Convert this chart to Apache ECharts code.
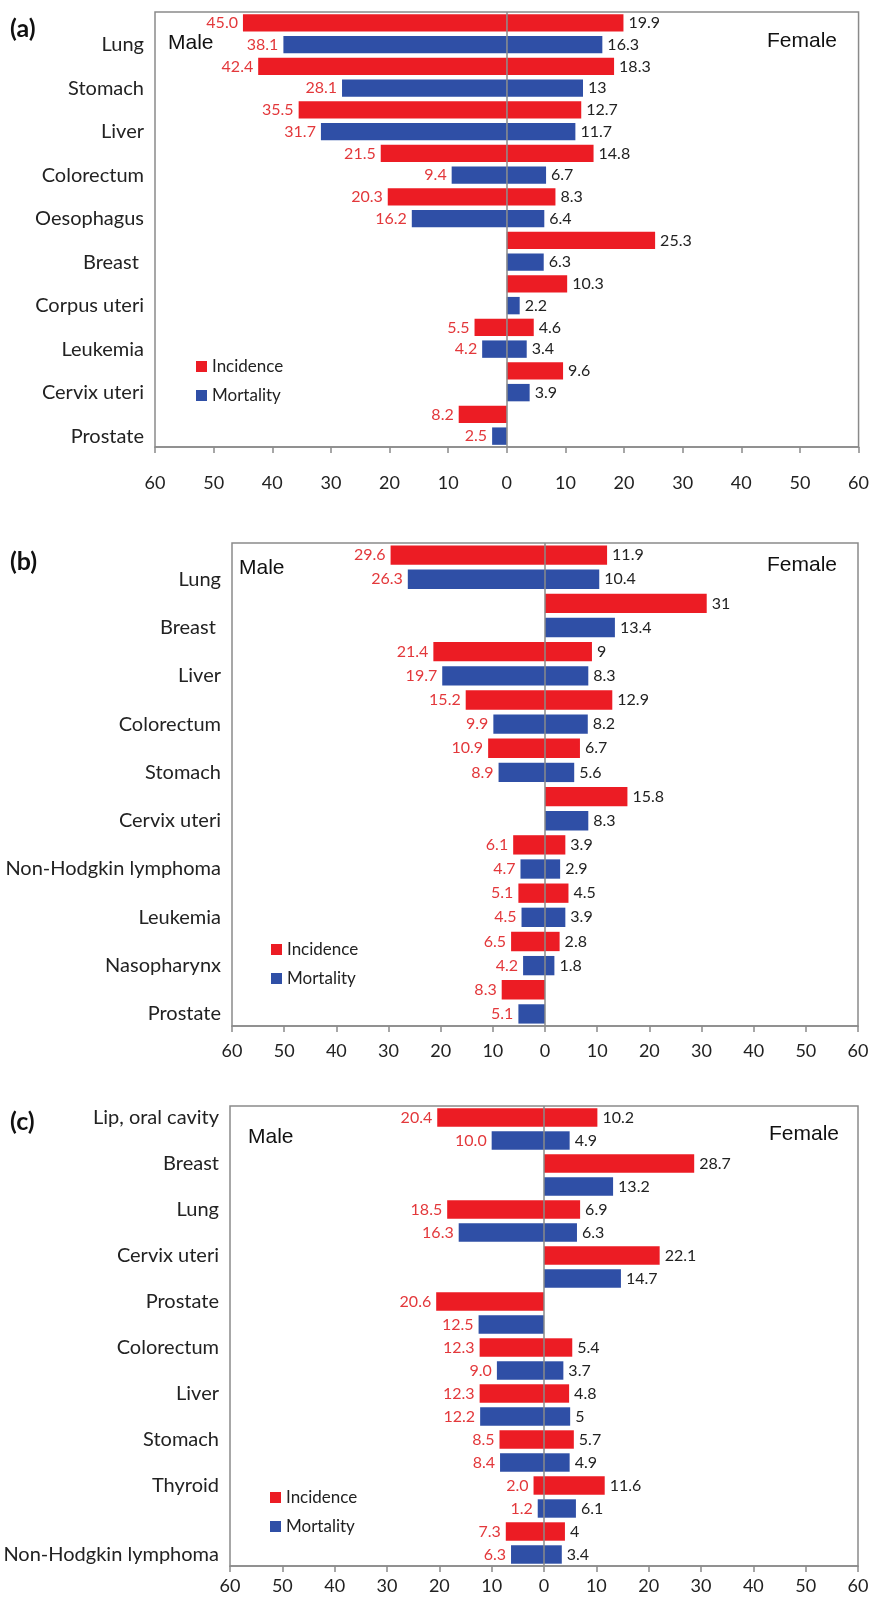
<!DOCTYPE html>
<html>
<head>
<meta charset="utf-8">
<script src="https://cdn.jsdelivr.net/npm/echarts@6/dist/echarts.min.js"></script>
<style>
html,body{margin:0;padding:0;background:#fff;}
#chart{width:872px;height:1600px;}
</style>
</head>
<body>
<div id="chart"></div>
<script>
// ---------- Panel (a) ----------
const catsA = ['Lung','Stomach','Liver','Colorectum','Oesophagus','Breast ','Corpus uteri','Leukemia','Cervix uteri','Prostate'];
const incMaleA   = [45.0, 42.4, 35.5, 21.5, 20.3, null, null, 5.5, null, 8.2];
const incFemaleA = [19.9, 18.3, 12.7, 14.8, 8.3, 25.3, 10.3, 4.6, 9.6, null];
const morMaleA   = [38.1, 28.1, 31.7, 9.4, 16.2, null, null, 4.2, null, 2.5];
const morFemaleA = [16.3, 13, 11.7, 6.7, 6.4, 6.3, 2.2, 3.4, 3.9, null];

// ---------- Panel (b) ----------
const catsB = ['Lung','Breast ','Liver','Colorectum','Stomach','Cervix uteri','Non-Hodgkin lymphoma','Leukemia','Nasopharynx','Prostate'];
const incMaleB   = [29.6, null, 21.4, 15.2, 10.9, null, 6.1, 5.1, 6.5, 8.3];
const incFemaleB = [11.9, 31, 9, 12.9, 6.7, 15.8, 3.9, 4.5, 2.8, null];
const morMaleB   = [26.3, null, 19.7, 9.9, 8.9, null, 4.7, 4.5, 4.2, 5.1];
const morFemaleB = [10.4, 13.4, 8.3, 8.2, 5.6, 8.3, 2.9, 3.9, 1.8, null];

// ---------- Panel (c) ----------
const catsC = ['Lip, oral cavity','Breast','Lung','Cervix uteri','Prostate','Colorectum','Liver','Stomach','Thyroid','Non-Hodgkin lymphoma'];
const incMaleC   = [20.4, null, 18.5, null, 20.6, 12.3, 12.3, 8.5, 2.0, 7.3];
const incFemaleC = [10.2, 28.7, 6.9, 22.1, null, 5.4, 4.8, 5.7, 11.6, 4];
const morMaleC   = [10.0, null, 16.3, null, 12.5, 9.0, 12.2, 8.4, 1.2, 6.3];
const morFemaleC = [4.9, 13.2, 6.3, 14.7, null, 3.7, 5, 4.9, 6.1, 3.4];

const panelTags = ['(a)','(b)','(c)'];
const seriesNames = ['Incidence','Mortality'];
const sexLabels = ['Male','Female'];
const axisMin = -60, axisMax = 60, axisStep = 10;

// label row per category: 0 = on incidence bar row, 1 = on mortality bar row
const panels = [
  {cats:catsA, im:incMaleA, ifm:incFemaleA, mm:morMaleA, mf:morFemaleA,
   labelRows:[1,1,1,1,1,1,1,1,1,1],
   grid:{left:155,right:13,top:12,height:435}, tickMargin:27,
   tagY:30, maleX:168, maleY:45, femaleX:837, femaleY:43, legendX:196, legendY:358},
  {cats:catsB, im:incMaleB, ifm:incFemaleB, mm:morMaleB, mf:morFemaleB,
   labelRows:[1,1,1,1,1,1,1,1,1,1],
   grid:{left:232,right:14,top:543,height:483}, tickMargin:16,
   tagY:563, maleX:239, maleY:570, femaleX:837, femaleY:567, legendX:271, legendY:941},
  {cats:catsC, im:incMaleC, ifm:incFemaleC, mm:morMaleC, mf:morFemaleC,
   labelRows:[0,0,0,0,0,0,0,0,0,1],
   grid:{left:230,right:14,top:1106,height:460}, tickMargin:11,
   tagY:1123, maleX:248, maleY:1139, femaleX:839, femaleY:1136, legendX:270, legendY:1489}
];

const RED = '#ec1c24', BLUE = '#2f4fa6', RED_TXT = '#e3383b', TXT = '#222';
const labelFont = 'Lato, "Open Sans", sans-serif';

const grids = [], xAxes = [], yAxes = [], series = [], legends = [], graphics = [];

panels.forEach((p, gi) => {
  const n = p.cats.length;
  const rows = [];
  for (let i = 0; i < n; i++) {
    rows.push(p.labelRows[i] === 0 ? p.cats[i] : '');
    rows.push(p.labelRows[i] === 1 ? p.cats[i] : '');
  }
  const fill = (arr, slot, sign) => {
    const out = [];
    for (let i = 0; i < n; i++) {
      const v = arr[i];
      const val = (v === null || v === undefined) ? '-' : sign * v;
      if (slot === 0) { out.push(val); out.push('-'); }
      else { out.push('-'); out.push(val); }
    }
    return out;
  };
  grids.push(Object.assign({show:true, borderColor:'#8a8a8a', borderWidth:1.5, backgroundColor:'rgba(0,0,0,0)'}, p.grid));
  xAxes.push({
    gridIndex:gi, type:'value', min:axisMin, max:axisMax, interval:axisStep,
    axisLine:{show:true, onZero:false, lineStyle:{color:'#8a8a8a', width:1.5}},
    axisTick:{show:true, length:6, lineStyle:{color:'#8a8a8a', width:1.5}},
    axisLabel:{formatter:v => String(Math.abs(v)), fontSize:18, color:TXT, margin:p.tickMargin, fontFamily:labelFont},
    splitLine:{show:false}
  });
  yAxes.push({
    gridIndex:gi, type:'category', inverse:true, data:rows,
    axisLine:{show:false}, axisTick:{show:false}, splitLine:{show:false},
    axisLabel:{interval:0, fontSize:20, color:TXT, margin:11, fontFamily:labelFont}
  });
  const maleLabel = {show:true, position:'left', distance:5, color:RED_TXT, fontSize:16, fontFamily:labelFont,
    formatter:pr => Math.abs(pr.value).toFixed(1)};
  const femLabel = {show:true, position:'right', distance:5, color:TXT, fontSize:16, fontFamily:labelFont,
    formatter:pr => String(pr.value)};
  const base = {type:'bar', xAxisIndex:gi, yAxisIndex:gi, barGap:'-100%', barCategoryGap:'20%'};
  series.push(Object.assign({}, base, {name:seriesNames[0], data:fill(p.im,0,-1), itemStyle:{color:RED}, label:maleLabel,
    markLine:{silent:true, symbol:'none', label:{show:false}, lineStyle:{color:'#8a8a8a', width:1.5, type:'solid'}, data:[{xAxis:0}], z:10}}));
  series.push(Object.assign({}, base, {name:seriesNames[0], data:fill(p.ifm,0,1), itemStyle:{color:RED}, label:femLabel}));
  series.push(Object.assign({}, base, {name:seriesNames[1], data:fill(p.mm,1,-1), itemStyle:{color:BLUE}, label:maleLabel}));
  series.push(Object.assign({}, base, {name:seriesNames[1], data:fill(p.mf,1,1), itemStyle:{color:BLUE}, label:femLabel}));
  legends.push({
    data:seriesNames, orient:'vertical', left:p.legendX, top:p.legendY, padding:0,
    itemWidth:11, itemHeight:11, itemGap:12, icon:'rect', selectedMode:false,
    textStyle:{fontSize:17, color:TXT, fontFamily:labelFont}
  });
  graphics.push({type:'text', left:10, top:p.tagY - 14, style:{text:panelTags[gi], font:'bold 25px Lato, sans-serif', fill:'#111'}});
  graphics.push({type:'text', left:p.maleX, top:p.maleY - 12, style:{text:sexLabels[0], font:'21px "Liberation Sans", Arial, sans-serif', fill:'#111'}});
  graphics.push({type:'text', right:872 - p.femaleX, top:p.femaleY - 12, style:{text:sexLabels[1], font:'21px "Liberation Sans", Arial, sans-serif', fill:'#111'}});
});

const chart = echarts.init(document.getElementById('chart'), null, {renderer:'canvas'});
chart.setOption({
  animation:false,
  backgroundColor:'#fff',
  grid:grids, xAxis:xAxes, yAxis:yAxes, series:series, legend:legends, graphic:graphics
});
</script>
</body>
</html>
